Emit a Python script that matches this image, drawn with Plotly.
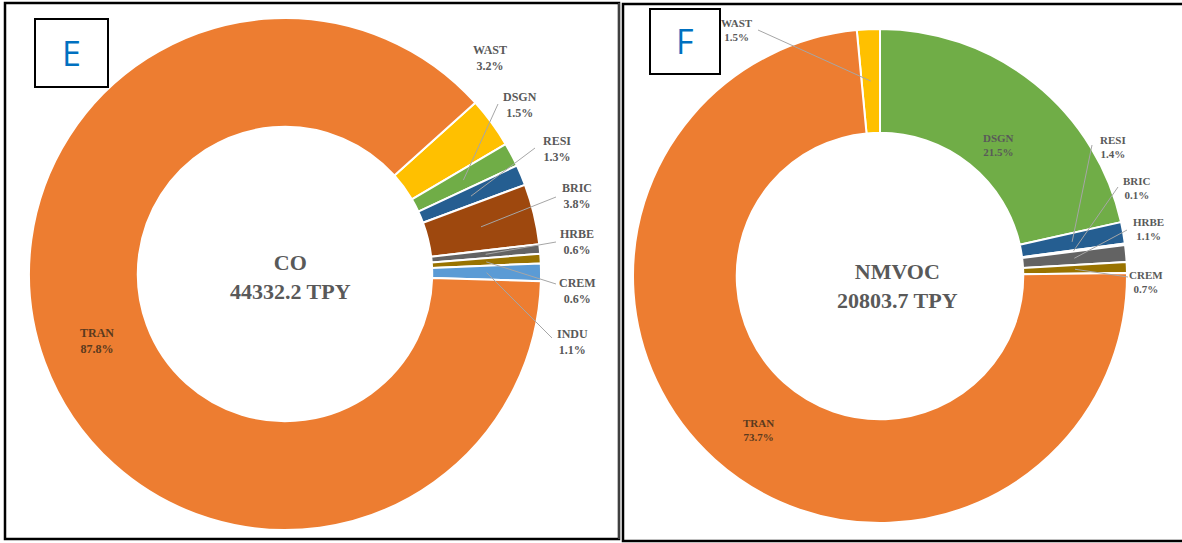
import math
import plotly.graph_objects as go

W, H = 1182, 543

# ---- data ----
co_labels = ["WAST", "DSGN", "RESI", "BRIC", "HRBE", "CREM", "INDU", "TRAN"]
co_values = [3.2, 1.5, 1.3, 3.8, 0.6, 0.6, 1.1, 87.8]
co_colors = ["#FFC000", "#70AD47", "#255E91", "#9E480E", "#636363", "#997300", "#5B9BD5", "#ED7D31"]
co_total = "44332.2 TPY"

voc_labels = ["WAST", "DSGN", "RESI", "BRIC", "HRBE", "CREM", "TRAN"]
voc_values = [1.5, 21.5, 1.4, 0.1, 1.1, 0.7, 73.7]
voc_colors = ["#FFC000", "#70AD47", "#255E91", "#9E480E", "#636363", "#997300", "#ED7D31"]
voc_total = "20803.7 TPY"

# ---- layout geometry (pixels) ----
E_geo = dict(cx=285, cy=274, R=256, hole=0.575, rot=48)
F_geo = dict(cx=880, cy=276, R=247, hole=0.58, rot=-5.4)

# label positions (pixel center of text) and leader start points
E_lab = {
    "WAST": (490, 58, None),
    "DSGN": (520, 105, (498, 104)),
    "RESI": (557, 149, (535, 148)),
    "BRIC": (577, 196, (556, 197)),
    "HRBE": (577, 242, (556, 242)),
    "CREM": (577, 291, (556, 284)),
    "INDU": (572, 342, (552, 338)),
    "TRAN": (97, 341, None),
}
F_lab = {
    "WAST": (737, 30, (758, 30)),
    "DSGN": (998, 145, None),
    "RESI": (1113, 147, (1092, 145)),
    "BRIC": (1137, 188, (1118, 187)),
    "HRBE": (1148, 229, (1127, 230)),
    "CREM": (1146, 282, (1128, 277)),
    "TRAN": (758, 430, None),
}


def px(x):
    return x / W


def py(y):
    return 1 - y / H


def pie_trace(labels, values, colors, geo):
    cx, cy, R = geo["cx"], geo["cy"], geo["R"]
    return go.Pie(
        labels=labels, values=values, sort=False, direction="clockwise",
        rotation=geo["rot"], hole=geo["hole"], textinfo="none",
        marker=dict(colors=colors, line=dict(color="white", width=2)),
        domain=dict(x=[px(cx - R), px(cx + R)], y=[py(cy + R), py(cy - R)]),
        showlegend=False, hoverinfo="label+percent",
    )


def tips(values, geo, frac=0.5):
    total = sum(values)
    out = []
    acc = 0.0
    r = geo["R"] * (geo["hole"] + (1 - geo["hole"]) * frac)
    for v in values:
        mid = geo["rot"] + (acc + v / 2) / total * 360
        a = math.radians(mid)
        out.append((geo["cx"] + r * math.sin(a), geo["cy"] - r * math.cos(a)))
        acc += v
    return out


fig = go.Figure()
fig.add_trace(pie_trace(co_labels, co_values, co_colors, E_geo))
fig.add_trace(pie_trace(voc_labels, voc_values, voc_colors, F_geo))

shapes = []
annotations = []


def add_labels(labels, values, geo, labpos, size=12, inside_color="#5a3a1e"):
    tp = tips(values, geo)
    for lab, v, t in zip(labels, values, tp):
        x, y, start = labpos[lab]
        color = inside_color if lab == "TRAN" else "#595959"
        annotations.append(dict(
            x=px(x), y=py(y), xref="paper", yref="paper", showarrow=False,
            text=f"<b>{lab}</b><br><b>{v}%</b>", align="center",
            font=dict(family="Liberation Serif", size=size, color=color),
            xanchor="center", yanchor="middle",
        ))
        if start is not None:
            shapes.append(dict(
                type="line", xref="paper", yref="paper",
                x0=px(start[0]), y0=py(start[1]), x1=px(t[0]), y1=py(t[1]),
                line=dict(color="#A6A6A6", width=1),
            ))


add_labels(co_labels, co_values, E_geo, E_lab, size=12)
add_labels(voc_labels, voc_values, F_geo, F_lab, size=11)

# center texts
annotations.append(dict(x=px(290), y=py(277), xref="paper", yref="paper", showarrow=False,
                        text="<b>CO</b><br><b>" + co_total + "</b>",
                        font=dict(family="Liberation Serif", size=22, color="#595959"),
                        align="center", xanchor="center", yanchor="middle"))
annotations.append(dict(x=px(897), y=py(286), xref="paper", yref="paper", showarrow=False,
                        text="<b>NMVOC</b><br><b>" + voc_total + "</b>",
                        font=dict(family="Liberation Serif", size=22, color="#595959"),
                        align="center", xanchor="center", yanchor="middle"))

# panel letters
for letter, (x0, y0, x1, y1) in [("E", (35, 19, 108, 87)), ("F", (650, 9, 720, 74))]:
    shapes.append(dict(type="rect", xref="paper", yref="paper",
                       x0=px(x0), y0=py(y0), x1=px(x1), y1=py(y1),
                       line=dict(color="black", width=2), fillcolor="white", layer="above"))
    annotations.append(dict(x=px((x0 + x1) / 2), y=py((y0 + y1) / 2), xref="paper", yref="paper",
                            showarrow=False, text=letter,
                            font=dict(family="Open Sans", size=34, color="#0070C0"),
                            xanchor="center", yanchor="middle"))

# panel borders
shapes.append(dict(type="rect", xref="paper", yref="paper",
                   x0=px(5), y0=py(539), x1=px(619), y1=py(3),
                   line=dict(color="black", width=2.5)))
shapes.append(dict(type="line", xref="paper", yref="paper",
                   x0=px(619), y0=py(539), x1=px(619), y1=py(3),
                   line=dict(color="#808080", width=1)))
shapes.append(dict(type="rect", xref="paper", yref="paper",
                   x0=px(623), y0=py(541), x1=px(1190), y1=py(4),
                   line=dict(color="black", width=2.5)))

fig.update_layout(
    width=W, height=H, margin=dict(l=0, r=0, t=0, b=0),
    paper_bgcolor="white", plot_bgcolor="white",
    shapes=shapes, annotations=annotations,
)

fig.write_html("out.html", config={"displayModeBar": False},
               post_script="document.body.style.margin='0';document.body.style.overflow='hidden';")
